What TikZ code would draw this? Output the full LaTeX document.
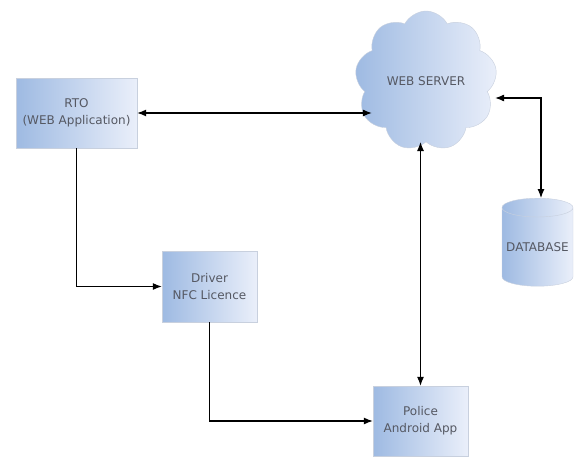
\documentclass[tikz,border=0pt]{standalone}
\usepackage{fontspec}
\setmainfont{DejaVu Sans}
\usetikzlibrary{shapes.symbols,shapes.geometric,arrows.meta}
\definecolor{boxleft}{RGB}{158,186,226}
\definecolor{boxright}{RGB}{234,239,250}
\definecolor{boxline}{RGB}{200,208,222}
\definecolor{labelgray}{RGB}{85,88,98}
\begin{document}
\begin{tikzpicture}[x=1pt,y=-1pt,
    every node/.style={font=\fontsize{12}{17}\selectfont, text=labelgray, align=center},
    block/.style={rectangle, draw=boxline, left color=boxleft, right color=boxright, inner sep=0pt},
    link/.style={draw=black, line width=1.1pt},
    >={Latex[length=9pt,width=7pt]}]
    \useasboundingbox (0,0) rectangle (578,458);
    % blocks
    \node(rto) [block, minimum width=121pt, minimum height=70pt] at (76.5,113) {RTO\\(WEB Application)};
    \node(driver) [block, minimum width=95pt, minimum height=71pt] at (209.5,286.5) {Driver\\NFC Licence};
    \node(police) [block, minimum width=95pt, minimum height=70pt] at (420.5,421) {Police\\Android App};
    \node(server) [cloud, cloud puffs=9, cloud puff arc=125, aspect=1, draw=boxline, left color=boxleft, right color=boxright, minimum width=142pt, minimum height=140pt, inner sep=0pt] at (426,81) {WEB SERVER};
    \node(db) [cylinder, shape border rotate=90, aspect=0.3, draw=boxline, left color=boxleft, right color=boxright, minimum width=71pt, minimum height=88pt, inner sep=0pt] at (537.5,247) {DATABASE};
    % links
    \draw[link, <->] (rto.east) -- ([xshift=15pt]rto.east -| server.west);
    \draw[link, <->] ([yshift=-17pt]server.east) -| ([xshift=3.5pt]db.north);
    \draw[link, ->] (rto.south) |- (driver.west);
    \draw[link, ->] (driver.south) |- (police.west);
    \draw[link, <->] (police.north) -- (police.north |- server.south);
\end{tikzpicture}
\end{document}
